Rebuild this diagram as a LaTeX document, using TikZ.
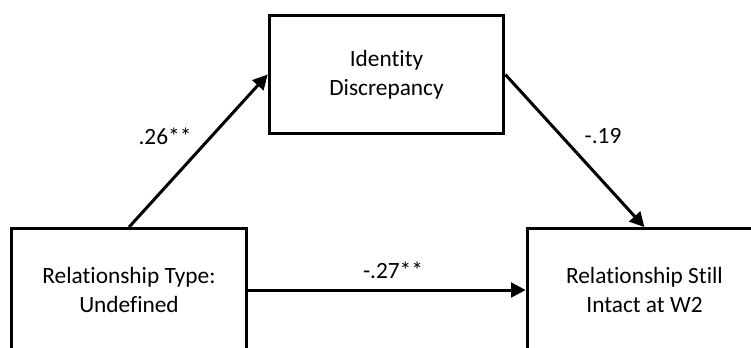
\documentclass[tikz,border=0pt]{standalone}
\usepackage{fontspec}
\setmainfont{Carlito}[Ligatures=NoCommon]
\usetikzlibrary{arrows.meta}

\tikzset{
  varbox/.style={draw, line width=2.25pt, minimum width=176pt, minimum height=89pt,
    align=center, font=\fontsize{17.5}{21.5}\selectfont},
  lowbox/.style={varbox, minimum height=92pt},
  effect/.style={line width=2.25pt, -{Triangle[length=11pt,width=11pt]}},
  coef/.style={font=\fontsize{17.5}{21}\selectfont}
}

\begin{document}
\begin{tikzpicture}[x=0.75pt,y=-0.75pt]
			\useasboundingbox (0,0) rectangle (751,347);
			\clip (0,0) rectangle (751,347);
			\node[varbox] (ident) at (386.5,74.5) {Identity\\Discrepancy};
			\node[lowbox] (undef) at (129,290) {Relationship Type:\\Undefined};
			\node[lowbox] (intact) at (644.5,290) {Relationship Still\\Intact at W2};
			\draw[effect] (undef.north) -- (ident.west);
			\draw[effect] (ident.east) -- (intact.north);
			\draw[effect] (undef.east) -- (intact.west);
			\node[coef] (aPath) at (165,136) {.26**};
			\node[coef] (bPath) at (603,136) {-.19};
			\node[coef] (cPath) at (393,270) {-.27**};
		\end{tikzpicture}
\end{document}
